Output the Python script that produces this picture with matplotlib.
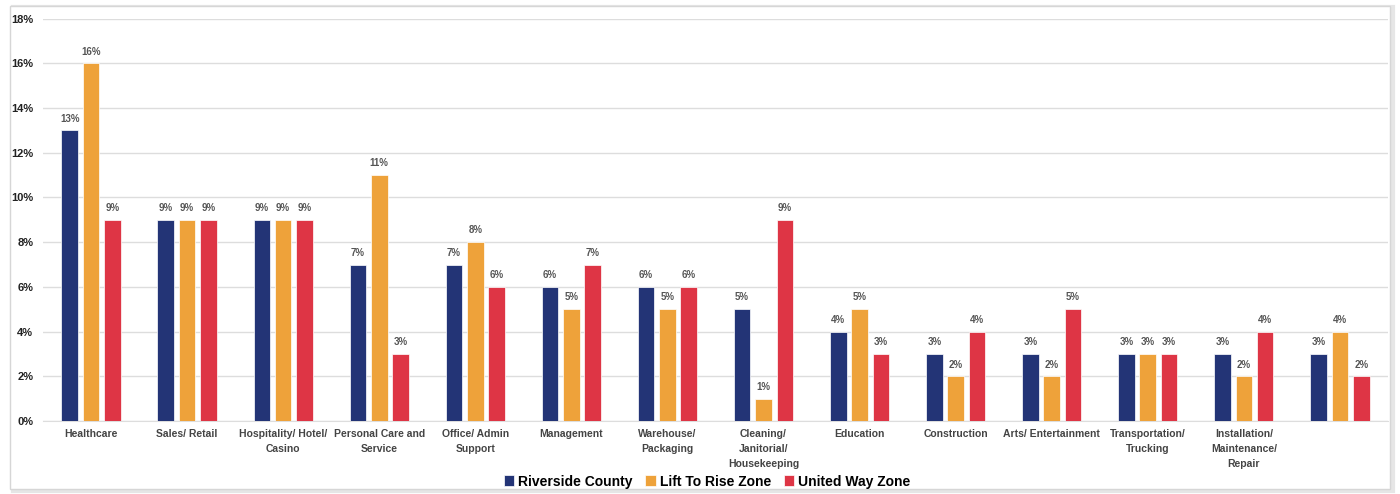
import numpy as np
import matplotlib
matplotlib.use('Agg')
import matplotlib.pyplot as plt
from matplotlib.patches import Rectangle
from matplotlib.ticker import FuncFormatter

plt.rcParams['font.family'] = ['Liberation Sans', 'DejaVu Sans']

categories = ['Healthcare', 'Sales/ Retail', 'Hospitality/ Hotel/\nCasino',
              'Personal Care and\nService', 'Office/ Admin\nSupport', 'Management',
              'Warehouse/\nPackaging', 'Cleaning/\nJanitorial/\nHousekeeping',
              'Education', 'Construction', 'Arts/ Entertainment',
              'Transportation/\nTrucking', 'Installation/\nMaintenance/\nRepair', '']
riverside = [13, 9, 9, 7, 7, 6, 6, 5, 4, 3, 3, 3, 3, 3]
lift_to_rise = [16, 9, 9, 11, 8, 5, 5, 1, 5, 2, 2, 3, 2, 4]
united_way = [9, 9, 9, 3, 6, 7, 6, 9, 3, 4, 5, 3, 4, 2]

series = [('Riverside County', riverside, '#233476'),
          ('Lift To Rise Zone', lift_to_rise, '#EEA23A'),
          ('United Way Zone', united_way, '#DE3545')]

fig = plt.figure(figsize=(14, 4.94), dpi=100)
# frame with soft shadow, kept behind the axes
fig.patches.append(Rectangle((0.009, 0.006), 0.986, 0.980, transform=fig.transFigure,
                             facecolor='none', edgecolor='#e6e6e6', lw=3, zorder=-10))
fig.patches.append(Rectangle((0.007, 0.010), 0.986, 0.978, transform=fig.transFigure,
                             facecolor='white', edgecolor='#d6d6d6', lw=1, zorder=-9))

ax = fig.add_axes([0.0307, 0.148, 0.9607, 0.814])
x = np.arange(len(categories))
pitch = 0.222
width = 0.173
for i, (name, vals, color) in enumerate(series):
    pos = x + (i - 1) * pitch
    bars = ax.bar(pos, vals, width, color=color, label=name, zorder=3,
                  edgecolor='white', linewidth=0.5)
    for b, v in zip(bars, vals):
        ax.text(b.get_x() + b.get_width() / 2, v + 0.3, f'{v}%', ha='center',
                va='bottom', fontsize=7, color='#555555', fontweight='bold')

ax.set_xlim(-0.5, len(categories) - 0.5)
ax.set_ylim(0, 18)
ax.set_yticks(np.arange(0, 19, 2))
ax.yaxis.set_major_formatter(FuncFormatter(lambda v, p: f'{int(v)}%'))
ax.set_xticks(x)
ax.set_xticklabels(categories, fontsize=7.5, fontweight='bold', color='#444444',
                   linespacing=1.6)
for lab in ax.get_yticklabels():
    lab.set_fontsize(8)
    lab.set_fontweight('bold')
    lab.set_color('#222222')
ax.tick_params(axis='both', length=0, pad=6)
ax.tick_params(axis='y', pad=7)
ax.grid(axis='y', color='#dddddd', lw=1, zorder=0)
for s in ['top', 'right', 'left']:
    ax.spines[s].set_visible(False)
ax.spines['bottom'].set_color('#dddddd')
ax.set_facecolor('none')

leg = fig.legend(loc='center', bbox_to_anchor=(0.505, 0.025), ncol=3, frameon=False,
                 handlelength=0.75, handleheight=0.85, handletextpad=0.3, columnspacing=0.9,
                 prop={'size': 10, 'weight': 'bold'})

fig.savefig('out.png', dpi=100, facecolor='white')
